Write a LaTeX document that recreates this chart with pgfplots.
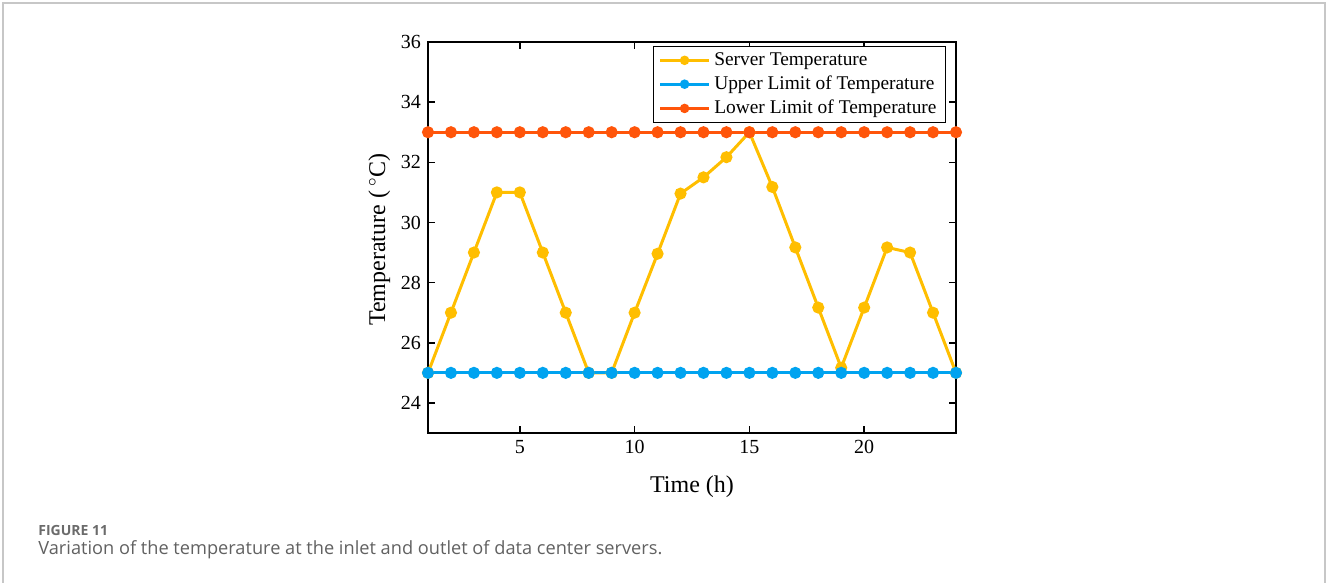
\documentclass[border=0pt]{standalone}
\usepackage{fontspec}
\setmainfont{Liberation Serif}
\newfontfamily\capfont{Open Sans}
\usepackage{pgfplots}
\pgfplotsset{compat=1.18}

\definecolor{servc}{RGB}{255,190,0}
\definecolor{upc}{RGB}{0,163,240}
\definecolor{lowc}{RGB}{255,85,10}

\begin{document}
\begin{tikzpicture}
\path[use as bounding box] (0,0) rectangle (663.5pt,-291.5pt);
\draw[black!22, line width=0.8pt] (1.5pt,-291.5pt) -- (1.5pt,-1.5pt) -- (662.5pt,-1.5pt) -- (662.5pt,-291.5pt);
\begin{axis}[
  at={(214pt,-216.5pt)}, anchor=south west,
  width=264pt, height=195.5pt, scale only axis,
  xmin=1, xmax=24, ymin=23, ymax=36,
  xtick={5,10,15,20}, ytick={24,26,...,36},
  tick align=inside, major tick length=3.5pt,
  axis line style={line width=0.75pt},
  every tick/.style={black, line width=0.75pt},
  ticklabel style={font=\fontsize{10}{12}\selectfont},
  /pgf/number format/assume math mode=true,
  xlabel={Time (h)},
  ylabel={Temperature (\,$^\circ$C)},
  label style={font=\fontsize{12}{14}\selectfont},
  xlabel style={at={(axis description cs:0.5,-0.137)}, anchor=center},
  ylabel style={at={(axis description cs:-0.092,0.495)}, anchor=center},
  legend style={at={(0.981,0.99)}, anchor=north east,
    font=\fontsize{9.7}{11}\selectfont, draw=black, line width=0.5pt,
    inner xsep=2.5pt, inner ysep=1pt, row sep=-0.2pt},
  legend cell align=left,
  legend image code/.code={
    \draw[#1, line width=1.5pt] (0cm,0cm) -- (0.85cm,0cm);
    \fill[#1, draw=none] (0.425cm,0cm) circle (2.4pt);
  },
  every axis plot/.append style={line width=1.5pt, mark=*, mark size=2.25pt},
]
\addplot[servc, mark options={fill=servc, draw=servc}] coordinates {
  (1,25) (2,27) (3,29) (4,31) (5,31) (6,29) (7,27) (8,25)
  (9,25) (10,27) (11,28.96) (12,30.96) (13,31.5) (14,32.17) (15,33) (16,31.18)
  (17,29.17) (18,27.17) (19,25.17) (20,27.17) (21,29.17) (22,29) (23,27) (24,25)
};
\addlegendentry{Server Temperature}
\addplot[upc, mark options={fill=upc, draw=upc}] coordinates {
  (1,25) (2,25) (3,25) (4,25) (5,25) (6,25) (7,25) (8,25)
  (9,25) (10,25) (11,25) (12,25) (13,25) (14,25) (15,25) (16,25)
  (17,25) (18,25) (19,25) (20,25) (21,25) (22,25) (23,25) (24,25)
};
\addlegendentry{Upper Limit of Temperature}
\addplot[lowc, mark options={fill=lowc, draw=lowc}] coordinates {
  (1,33) (2,33) (3,33) (4,33) (5,33) (6,33) (7,33) (8,33)
  (9,33) (10,33) (11,33) (12,33) (13,33) (14,33) (15,33) (16,33)
  (17,33) (18,33) (19,33) (20,33) (21,33) (22,33) (23,33) (24,33)
};
\addlegendentry{Lower Limit of Temperature}
\end{axis}
\node[anchor=west, inner sep=0pt, text=black!58, font=\capfont\fontsize{7}{8}\selectfont\bfseries] at (19pt,-265pt) {FIGURE 11};
\node[anchor=west, inner sep=0pt, text=black!62, font=\capfont\fontsize{9.1}{11}\selectfont] at (19pt,-275pt) {Variation of the temperature at the inlet and outlet of data center servers.};
\end{tikzpicture}
\end{document}
